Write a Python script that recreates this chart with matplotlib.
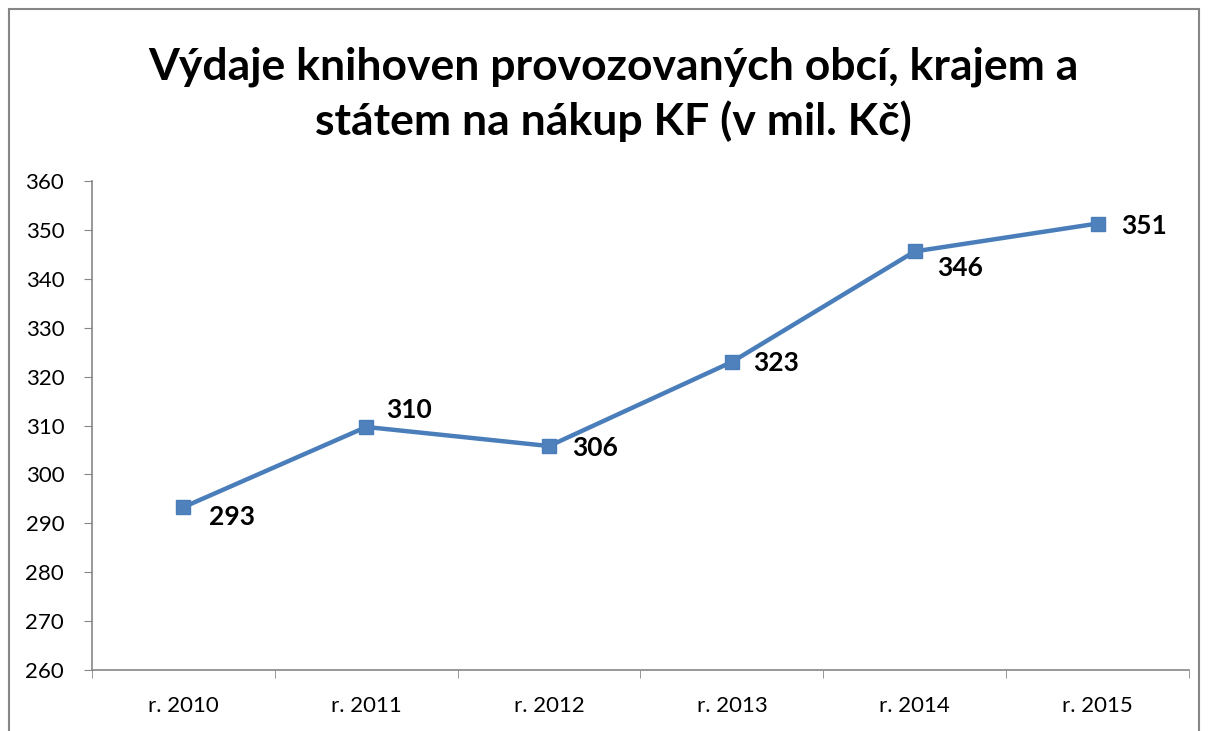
import matplotlib
matplotlib.use("Agg")
import matplotlib.pyplot as plt
from matplotlib.patches import Rectangle
import numpy as np

categories = ["r. 2010", "r. 2011", "r. 2012", "r. 2013", "r. 2014", "r. 2015"]
values = [293.3, 309.7, 305.8, 323.0, 345.6, 351.3]
labels = ["293", "310", "306", "323", "346", "351"]
title = "Výdaje knihoven provozovaných obcí, krajem a\nstátem na nákup KF (v mil. Kč)"

plt.rcParams['font.family'] = ['Lato', 'DejaVu Sans']

fig = plt.figure(figsize=(12.08, 7.31), dpi=100)
ax = fig.add_axes([92/1208, 1-670/731, (1189-92)/1208, (670-181)/731])

x = np.arange(len(categories))
ax.plot(x, values, color='#4A7EBB', lw=3.2, marker='s', markersize=10,
        markerfacecolor='#4F81BD', markeredgecolor='#4A7EBB', zorder=3)

offsets = [(49, -10), (43, 17), (46, -2), (44, -1), (45, -17), (46, -2)]
for xi, v, lab, off in zip(x, values, labels, offsets):
    ax.annotate(lab, (xi, v), xytext=off, textcoords='offset pixels',
                ha='center', va='center', fontsize=19, fontweight='bold', color='black')

ax.set_xlim(-0.5, len(categories) - 0.5)
ax.set_ylim(260, 360)
ax.set_yticks(np.arange(260, 361, 10))
ax.set_xticks(x)
ax.set_xticklabels(categories)
ax.set_xticks(np.arange(-0.5, len(categories), 1), minor=True)
ax.tick_params(axis='x', which='major', length=0, labelsize=16, pad=19)
ax.tick_params(axis='x', which='minor', length=6, color='#868686', direction='out')
ax.tick_params(axis='y', length=6, color='#868686', labelsize=16, pad=14)
for s in ['top', 'right']:
    ax.spines[s].set_visible(False)
for s in ['left', 'bottom']:
    ax.spines[s].set_color('#868686')
    ax.spines[s].set_linewidth(1.2)

fig.text(613/1208, 1-94/731, title, ha='center', va='center', fontsize=32,
         fontweight='bold', linespacing=1.38)

fig.patches.append(Rectangle((9/1208, -0.01), (1199-9)/1208, 1-9/731+0.01,
                             transform=fig.transFigure, fill=False,
                             edgecolor='#868686', lw=1.5))

fig.savefig("out.png", dpi=100)
